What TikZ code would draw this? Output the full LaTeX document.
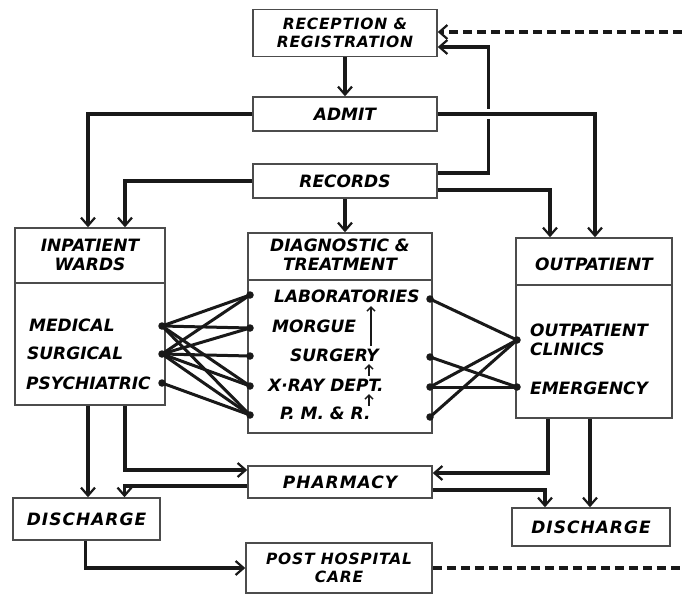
\documentclass[tikz,border=0pt]{standalone}
\usepackage{fontspec}
\setmainfont{DejaVu Sans}[BoldFont={DejaVu Sans Bold},ItalicFont={DejaVu Sans Oblique},BoldItalicFont={DejaVu Sans Bold Oblique}]
\usetikzlibrary{arrows.meta,calc}
\newcommand\lblfont{\fontsize{17}{19}\selectfont\bfseries\itshape}
\newcommand\smlfont{\fontsize{15.5}{18}\selectfont\bfseries\itshape\addfontfeature{LetterSpace=5}}
\newcommand\widefont{\fontsize{17}{19}\selectfont\bfseries\itshape\addfontfeature{LetterSpace=6}}
\begin{document}
\begin{tikzpicture}[x=1pt,y=-1pt,
  box/.style={draw=black!70, line width=1.5pt, inner sep=0pt, font=\lblfont, align=center},
  boxline/.style={draw=black!70, line width=1.5pt},
  lbl/.style={font=\lblfont, align=center, inner sep=0pt},
  item/.style={font=\lblfont, anchor=west, inner sep=0pt},
  conn/.style={draw=black!90, line width=3.2pt, -{Straight Barb[length=8pt,width=14pt,line width=2.2pt]}},
  wire/.style={draw=black!90, line width=3pt},
  dot/.style={circle, fill=black!90, inner sep=0pt, minimum size=7.5pt},
  small/.style={draw=black!90, line width=1.8pt, -{Straight Barb[length=4pt,width=8pt,line width=1.5pt]}}
]
\useasboundingbox (0,0) rectangle (682,595);
\fill[white] (0,0) rectangle (682,595);

% boxes
\node[box, minimum width=184pt, minimum height=47pt, font=\smlfont] (rec) at (345,33) {RECEPTION \&\\REGISTRATION};
\node[box, minimum width=184pt, minimum height=34pt] (admit) at (345,114) {ADMIT};
\node[box, minimum width=184pt, minimum height=34pt] (records) at (345,181) {RECORDS};
\node[box, minimum width=150pt, minimum height=177pt] (inp) at (90,316.5) {};
\node[box, minimum width=184pt, minimum height=200pt] (diag) at (340,333) {};
\node[box, minimum width=156pt, minimum height=180pt] (outp) at (594,328) {};
\node[box, minimum width=184pt, minimum height=32pt, font=\widefont] (pharm) at (340,482) {PHARMACY};
\node[box, minimum width=147pt, minimum height=42pt, font=\widefont] (disL) at (86.5,519) {DISCHARGE};
\node[box, minimum width=158pt, minimum height=38pt, font=\widefont] (disR) at (591,527) {DISCHARGE};
\node[box, minimum width=186pt, minimum height=50pt, font=\smlfont] (post) at (339,568) {POST HOSPITAL\\CARE};

% dividers
\draw[boxline] (inp.west |- 0,283) -- (inp.east |- 0,283);
\draw[boxline] (diag.west |- 0,280) -- (diag.east |- 0,280);
\draw[boxline] (outp.west |- 0,285) -- (outp.east |- 0,285);

% headers
\node[lbl] (inph) at (90,255) {INPATIENT\\WARDS};
\node[lbl] (diagh) at (340,255) {DIAGNOSTIC \&\\TREATMENT};
\node[lbl] (outph) at (594,264) {OUTPATIENT};

% items
\node[item] (tmed) at (29,325) {MEDICAL};
\node[item] (tsur) at (27,353) {SURGICAL};
\node[item] (tpsy) at (26,383) {PSYCHIATRIC};
\node[item] (tlab) at (274,296) {LABORATORIES};
\node[item] (tmor) at (272,326) {MORGUE};
\node[item] (tsurg) at (290,355) {SURGERY};
\node[item] (txr) at (268,385) {X·RAY DEPT.};
\node[item] (tpm) at (280,413) {P. M. \& R.};
\node[item, align=left] (tcli) at (530,340) {OUTPATIENT\\CLINICS};
\node[item] (teme) at (530,388) {EMERGENCY};

% dots
\node[dot] (med) at (162,326) {};
\node[dot] (sur) at (162,354) {};
\node[dot] (psy) at (162,383) {};
\node[dot] (labL) at (250,295) {};
\node[dot] (morL) at (250,328) {};
\node[dot] (surL) at (250,356) {};
\node[dot] (xrL) at (250,386) {};
\node[dot] (pmL) at (250,415) {};
\node[dot] (labR) at (430,299) {};
\node[dot] (surR) at (430,357) {};
\node[dot] (xrR) at (430,387) {};
\node[dot] (pmR) at (430,417) {};
\node[dot] (cli) at (517,340) {};
\node[dot] (eme) at (517,387) {};

% wires left
\foreach \a/\b in {med/labL,med/morL,med/xrL,med/pmL,sur/labL,sur/morL,sur/surL,sur/xrL,sur/pmL,psy/pmL}
  \draw[wire] (\a.center) -- (\b.center);
% wires right
\foreach \a/\b in {labR/cli,surR/eme,xrR/cli,xrR/eme,pmR/cli}
  \draw[wire] (\a.center) -- (\b.center);

% small arrows in diagnostic
\coordinate (s1a) at (371,346); \coordinate (s1b) at (371,306);
\coordinate (s2a) at (369,376); \coordinate (s2b) at (369,364);
\coordinate (s3a) at (369,406); \coordinate (s3b) at (369,394);
\draw[small] (s1a) -- (s1b);
\draw[small] (s2a) -- (s2b);
\draw[small] (s3a) -- (s3b);

% main connectors
\draw[conn] (rec.south) -- (admit.north);
\draw[conn] (records.south) -- (records.south |- diag.north);
\draw[conn] ($(records.east)+(0,-8)$) -- ++(51,0) |- ($(rec.east)+(0,14)$);
\draw[conn, preaction={draw=white, line width=10pt, -}] (admit.east) -| ($(outp.north)+(1,0)$);
\draw[conn] (admit.west) -| ($(inp.north)+(-2,0)$);
\draw[conn] (records.west) -| ($(inp.north)+(35,0)$);
\draw[conn] ($(records.east)+(0,9)$) -| ($(outp.north)+(-44,0)$);

\coordinate (dashTop) at (682,32);
\coordinate (dashBot) at (682,568);
\draw[conn, dash pattern=on 9pt off 5pt] (dashTop) -- ($(rec.east)+(0,-1)$);
\draw[wire, line width=3.2pt, dash pattern=on 9pt off 5pt] (post.east) -- (dashBot);

% bottom connectors
\coordinate (inpA) at ($(inp.south)+(-2,0)$);
\coordinate (inpB) at ($(inp.south)+(35,0)$);
\coordinate (outA) at ($(outp.south)+(-46,0)$);
\coordinate (outB) at ($(outp.south)+(-4,0)$);
\draw[conn] (inpA) -- (inpA |- disL.north);
\draw[conn] (inpB) |- ($(pharm.west)+(0,-12)$);
\draw[conn] ($(pharm.west)+(0,4)$) -| ($(disL.north)+(38,0)$);
\draw[conn] (outA) |- ($(pharm.east)+(0,-9)$);
\draw[conn] (outB) -- (outB |- disR.north);
\draw[conn] ($(pharm.east)+(0,8)$) -| ($(disR.north)+(-46,0)$);
\draw[conn] ($(disL.south)+(-1,0)$) |- (post.west);
\end{tikzpicture}
\end{document}
